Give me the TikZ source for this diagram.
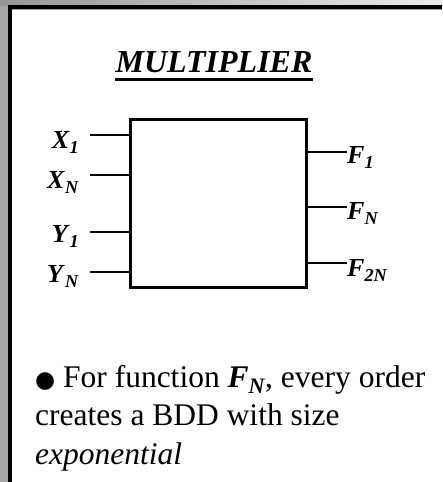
\documentclass[tikz,border=0pt]{standalone}
\usepackage{fontspec}
\setmainfont{Liberation Serif}
\newfontfamily\symfont{DejaVu Sans}
\usetikzlibrary{positioning}
\definecolor{framegray}{RGB}{166,166,166}
\definecolor{framedark}{RGB}{150,150,150}
\definecolor{framelight}{RGB}{236,236,236}
\newcommand{\sig}[2]{\textbf{\textit{#1}\raisebox{-0.2em}{\scalebox{0.7}{\textit{#2}}}}}
\newcommand{\bul}{{\symfont\fontsize{23}{39}\selectfont●}}
\begin{document}
\begin{tikzpicture}[x=1pt, y=-1pt,
    pin/.style={line width=1.2pt},
    sig/.style={inner sep=0pt, font=\fontsize{26}{26}\selectfont}]
    \useasboundingbox (0,0) rectangle (442,482);
    \fill[framegray] (0,0) rectangle (8,482);
    \shade[left color=framedark, right color=framelight] (0,0) rectangle (442,5);
    \fill (8,5) rectangle (12,482);
    \fill (8,5) rectangle (442,9);
    \draw[framegray, line width=1pt] (12,9.5) -- (442,9.5);

    \node[anchor=base, inner sep=0pt, font=\fontsize{32}{32}\selectfont] (title) at (214,72) {\textbf{\textit{MULTIPLIER}}};
    \draw[line width=3pt] ([yshift=-7.5pt]title.base west) -- ([yshift=-7.5pt]title.base east);

    \node[draw, line width=3pt, minimum width=176pt, minimum height=168pt] (mult) at (218,203) {};

    \coordinate (x1) at (90,135);
    \coordinate (xn) at (90,175);
    \coordinate (y1) at (90,232);
    \coordinate (yn) at (90,272);
    \draw[pin] (x1) -- (x1 -| mult.west);
    \draw[pin] (xn) -- (xn -| mult.west);
    \draw[pin] (y1) -- (y1 -| mult.west);
    \draw[pin] (yn) -- (yn -| mult.west);
    \node[sig, anchor=base east] (lx1) at ([xshift=-11pt, yshift=-13pt]x1) {\sig{X}{1}};
    \node[sig, anchor=base east] (lxn) at ([xshift=-11pt, yshift=-13pt]xn) {\sig{X}{N}};
    \node[sig, anchor=base east] (ly1) at ([xshift=-11pt, yshift=-10pt]y1) {\sig{Y}{1}};
    \node[sig, anchor=base east] (lyn) at ([xshift=-11pt, yshift=-10pt]yn) {\sig{Y}{N}};

    \coordinate (f1) at (347,152);
    \coordinate (fn) at (347,207);
    \coordinate (f2n) at (347,263);
    \draw[pin] (f1 -| mult.east) -- (f1);
    \draw[pin] (fn -| mult.east) -- (fn);
    \draw[pin] (f2n -| mult.east) -- (f2n);
    \node[sig, anchor=base west] (lf1) at ([yshift=-11pt]f1) {\sig{F}{1}};
    \node[sig, anchor=base west] (lfn) at ([yshift=-12pt]fn) {\sig{F}{N}};
    \node[sig, anchor=base west] (lf2n) at ([yshift=-13pt]f2n) {\sig{F}{2N}};

    \node[anchor=base west, inner sep=0pt, align=left, font=\fontsize{31.5}{38.5}\selectfont] (note) at (35,464)
        {\bul\ For function \sig{F}{N}, every order\\creates a BDD with size\\\textit{exponential}};
\end{tikzpicture}
\end{document}
